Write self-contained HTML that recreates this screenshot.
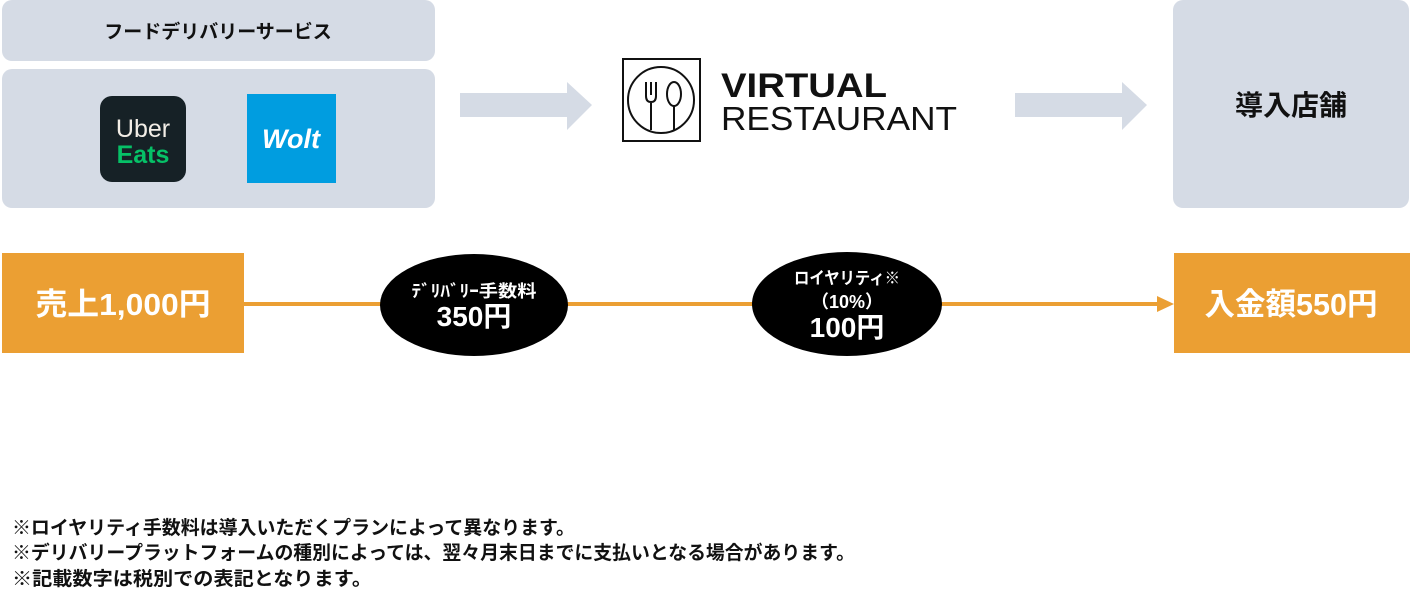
<!DOCTYPE html>
<html><head><meta charset="utf-8"><style>
html,body{margin:0;padding:0;background:#fff;}
svg{display:block;}
text{font-family:"Liberation Sans","Noto Sans CJK JP",sans-serif;font-weight:bold;}
</style></head><body>
<svg width="1410" height="607" viewBox="0 0 1410 607" xmlns="http://www.w3.org/2000/svg">
<rect x="2" y="0" width="433" height="61" rx="10" fill="#d5dbe5"/>
<text x="218" y="38" font-size="19" text-anchor="middle" fill="#111">フードデリバリーサービス</text>
<rect x="2" y="69" width="433" height="139" rx="10" fill="#d5dbe5"/>
<rect x="100" y="96" width="86" height="86" rx="12" fill="#162126"/>
<text x="143" y="137" font-size="25" text-anchor="middle" fill="#f2ede6" style="font-weight:normal">Uber</text>
<text x="143" y="163" font-size="25" text-anchor="middle" fill="#06c167">Eats</text>
<rect x="247" y="94" width="89" height="89" fill="#009de0"/>
<text x="291" y="148" font-size="27" font-style="italic" text-anchor="middle" fill="#fff">Wolt</text>
<polygon points="460,93 567,93 567,82 592,105 567,130 567,117 460,117" fill="#d5dbe5"/>
<polygon points="1015,93 1122,93 1122,82 1147,105 1122,130 1122,117 1015,117" fill="#d5dbe5"/>
<rect x="623" y="59" width="77" height="82" fill="none" stroke="#111" stroke-width="2"/>
<circle cx="661" cy="100" r="33" fill="none" stroke="#111" stroke-width="2"/>
<g fill="none" stroke="#111" stroke-width="2">
<path d="M646 82 v14 q0 6 5 6 q5 0 5-6 v-14 M651 82 v13 M651 102 v28"/>
<ellipse cx="674" cy="94" rx="7" ry="12"/>
<path d="M674 106 v25"/>
</g>
<text x="721" y="97" font-size="34" fill="#111" textLength="166" lengthAdjust="spacingAndGlyphs">VIRTUAL</text>
<text x="721" y="130" font-size="33" fill="#111" style="font-weight:normal" textLength="236" lengthAdjust="spacingAndGlyphs">RESTAURANT</text>
<rect x="1173" y="0" width="236" height="208" rx="10" fill="#d5dbe5"/>
<text x="1291" y="115" font-size="28" text-anchor="middle" fill="#111">導入店舗</text>
<rect x="244" y="302" width="914" height="4" fill="#eb9f33"/>
<polygon points="1157,296 1174,304 1157,312" fill="#eb9f33"/>
<rect x="2" y="253" width="242" height="100" fill="#eb9f33"/>
<text x="123" y="315" font-size="31" text-anchor="middle" fill="#fff" textLength="175" lengthAdjust="spacingAndGlyphs">売上1,000円</text>
<rect x="1174" y="253" width="236" height="100" fill="#eb9f33"/>
<text x="1291" y="315" font-size="31" text-anchor="middle" fill="#fff" textLength="173" lengthAdjust="spacingAndGlyphs">入金額550円</text>
<ellipse cx="474" cy="305" rx="94" ry="51" fill="#000"/>
<text x="474" y="297" font-size="17" text-anchor="middle" fill="#fff" textLength="125" lengthAdjust="spacingAndGlyphs">ﾃﾞﾘﾊﾞﾘｰ手数料</text>
<text x="474" y="326" font-size="28" text-anchor="middle" fill="#fff">350円</text>
<ellipse cx="847" cy="304" rx="95" ry="52" fill="#000"/>
<text x="847" y="284" font-size="17" text-anchor="middle" fill="#fff" textLength="106" lengthAdjust="spacingAndGlyphs">ロイヤリティ※</text>
<text x="847" y="308" font-size="18" text-anchor="middle" fill="#fff">（10%）</text>
<text x="847" y="337" font-size="28" text-anchor="middle" fill="#fff">100円</text>
<text x="12" y="534" font-size="19" fill="#111" textLength="563" lengthAdjust="spacingAndGlyphs">※ロイヤリティ手数料は導入いただくプランによって異なります。</text>
<text x="12" y="559" font-size="19" fill="#111" textLength="843" lengthAdjust="spacingAndGlyphs">※デリバリープラットフォームの種別によっては、翌々月末日までに支払いとなる場合があります。</text>
<text x="12" y="585" font-size="19" fill="#111" textLength="360" lengthAdjust="spacingAndGlyphs">※記載数字は税別での表記となります。</text>
</svg>
</body></html>
